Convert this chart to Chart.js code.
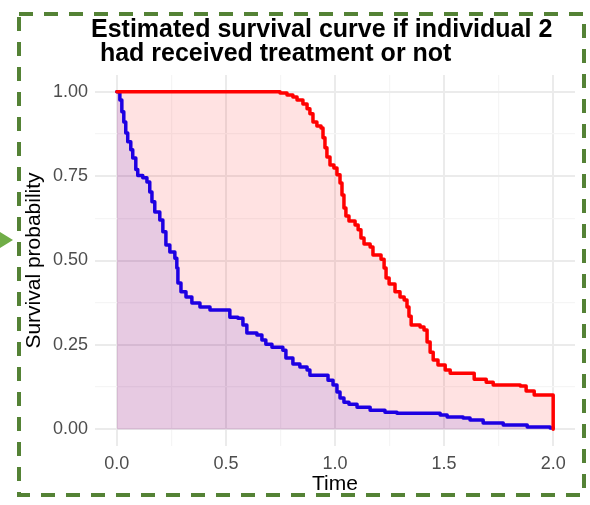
<!DOCTYPE html>
<html>
<head>
<meta charset="utf-8">
<script src="https://cdn.jsdelivr.net/npm/chart.js@4.4.1/dist/chart.umd.min.js"></script>
<style>
  html, body { margin: 0; padding: 0; background: #ffffff; }
  #wrap { position: relative; width: 590px; height: 505px; }
</style>
</head>
<body>
<div id="wrap"><canvas id="c" width="590" height="505"></canvas></div>
<script>
// ---- Data ----
const titleLines = ['Estimated survival curve if individual 2', ' had received treatment or not'];
const xAxisTitle = 'Time';
const yAxisTitle = 'Survival probability';
const xTickValues = [0.0, 0.5, 1.0, 1.5, 2.0];
const yTickValues = [0.00, 0.25, 0.50, 0.75, 1.00];

// Red curve (Kaplan–Meier step points: time, survival)
const redTime = [0, 0.688, 0.748, 0.780, 0.807, 0.826, 0.853, 0.872, 0.885, 0.899, 0.917, 0.936, 0.945, 0.954, 0.963, 0.977, 0.995, 1.009, 1.023, 1.032, 1.041, 1.050, 1.064, 1.092, 1.106, 1.119, 1.133, 1.161, 1.174, 1.211, 1.225, 1.234, 1.248, 1.275, 1.298, 1.317, 1.330, 1.339, 1.349, 1.390, 1.408, 1.422, 1.436, 1.450, 1.472, 1.505, 1.528, 1.638, 1.693, 1.725, 1.849, 1.876, 1.913, 2.000];
const redSurv = [1.000, 1.000, 0.997, 0.991, 0.985, 0.976, 0.964, 0.950, 0.935, 0.911, 0.899, 0.893, 0.864, 0.834, 0.807, 0.783, 0.774, 0.754, 0.730, 0.694, 0.656, 0.632, 0.617, 0.605, 0.591, 0.567, 0.549, 0.540, 0.516, 0.504, 0.478, 0.448, 0.430, 0.407, 0.392, 0.383, 0.362, 0.335, 0.309, 0.303, 0.294, 0.258, 0.228, 0.205, 0.190, 0.175, 0.166, 0.148, 0.139, 0.131, 0.128, 0.113, 0.101, 0.000];

// Blue curve
const blueTime = [0, 0.014, 0.023, 0.032, 0.041, 0.050, 0.064, 0.073, 0.087, 0.096, 0.119, 0.138, 0.151, 0.161, 0.174, 0.197, 0.211, 0.225, 0.243, 0.266, 0.275, 0.280, 0.294, 0.317, 0.344, 0.381, 0.427, 0.518, 0.555, 0.578, 0.596, 0.642, 0.665, 0.683, 0.711, 0.761, 0.775, 0.807, 0.839, 0.872, 0.885, 0.968, 0.991, 1.009, 1.023, 1.041, 1.064, 1.101, 1.161, 1.229, 1.284, 1.482, 1.514, 1.587, 1.619, 1.679, 1.771, 1.881, 1.986, 2.000];
const blueSurv = [1.000, 0.976, 0.941, 0.911, 0.878, 0.852, 0.828, 0.804, 0.770, 0.752, 0.745, 0.733, 0.703, 0.674, 0.644, 0.620, 0.585, 0.546, 0.525, 0.507, 0.478, 0.433, 0.407, 0.392, 0.374, 0.362, 0.353, 0.332, 0.329, 0.309, 0.285, 0.279, 0.264, 0.252, 0.243, 0.234, 0.211, 0.193, 0.184, 0.175, 0.160, 0.145, 0.131, 0.110, 0.092, 0.080, 0.074, 0.065, 0.056, 0.050, 0.047, 0.042, 0.036, 0.033, 0.027, 0.018, 0.012, 0.006, 0.003, 0.003];

const toPoints = (ts, ss) => ts.map((t, i) => ({ x: t, y: ss[i] }));

// ---- Decorations: dashed frame, arrow, title ----
const framePlugin = {
  id: 'frame',
  afterDraw(chart) {
    const ctx = chart.ctx;
    ctx.save();
    ctx.strokeStyle = '#548235';
    ctx.lineWidth = 4;
    ctx.setLineDash([14, 11]);
    ctx.strokeRect(19, 14, 565, 481);
    ctx.setLineDash([]);
    ctx.fillStyle = '#70AD47';
    ctx.beginPath();
    ctx.moveTo(0, 232);
    ctx.lineTo(13, 240);
    ctx.lineTo(0, 248);
    ctx.closePath();
    ctx.fill();
    ctx.fillStyle = '#000000';
    ctx.font = 'bold 25px "Liberation Sans", Arial, sans-serif';
    ctx.textAlign = 'left';
    ctx.textBaseline = 'alphabetic';
    ctx.fillText(titleLines[0], 91, 37);
    ctx.fillText(titleLines[1], 93, 61);
    ctx.restore();
  }
};

const majorX = v => Math.abs(v * 2 - Math.round(v * 2)) < 1e-6;
const majorY = v => Math.abs(v * 4 - Math.round(v * 4)) < 1e-6;

new Chart(document.getElementById('c'), {
  type: 'line',
  data: {
    datasets: [
      {
        label: 'Treatment',
        data: toPoints(redTime, redSurv),
        borderColor: '#FF0000',
        backgroundColor: 'rgba(255,0,0,0.115)',
        borderWidth: 3.5,
        borderJoinStyle: 'round',
        borderCapStyle: 'round',
        stepped: 'before',
        pointRadius: 0,
        fill: 'origin',
        tension: 0
      },
      {
        label: 'No treatment',
        data: toPoints(blueTime, blueSurv),
        borderColor: '#0000FF',
        backgroundColor: 'rgba(0,0,255,0.11)',
        borderWidth: 3.5,
        borderJoinStyle: 'round',
        borderCapStyle: 'round',
        stepped: 'before',
        pointRadius: 0,
        fill: 'origin',
        tension: 0
      }
    ]
  },
  options: {
    responsive: false,
    animation: false,
    devicePixelRatio: 1,
    layout: { padding: { top: 75, right: 15, left: 0, bottom: 0 } },
    plugins: {
      legend: { display: false },
      title: { display: false },
      tooltip: { enabled: false }
    },
    scales: {
      x: {
        type: 'linear',
        min: -0.1,
        max: 2.1,
        afterFit(s) { s.height = 59; },
        border: { display: false },
        grid: {
          drawTicks: false,
          color: ctx => majorX(ctx.tick.value) ? '#EBEBEB' : '#F5F5F5',
          lineWidth: ctx => majorX(ctx.tick.value) ? 2 : 1.2
        },
        ticks: {
          stepSize: 0.25,
          includeBounds: false,
          autoSkip: false,
          maxRotation: 0,
          padding: 7,
          color: '#4D4D4D',
          font: { family: '"Liberation Sans", Arial, sans-serif', size: 18 },
          callback: v => xTickValues.some(t => Math.abs(t - v) < 1e-6) ? Number(v).toFixed(1) : ''
        },
        title: {
          display: true,
          text: xAxisTitle,
          color: '#000000',
          font: { family: '"Liberation Sans", Arial, sans-serif', size: 21 },
          padding: { top: 0, bottom: 8 }
        }
      },
      y: {
        type: 'linear',
        min: -0.05,
        max: 1.05,
        afterFit(s) { s.width = 95; },
        border: { display: false },
        grid: {
          drawTicks: false,
          color: ctx => majorY(ctx.tick.value) ? '#EBEBEB' : '#F5F5F5',
          lineWidth: ctx => majorY(ctx.tick.value) ? 2 : 1.2
        },
        ticks: {
          stepSize: 0.125,
          includeBounds: false,
          autoSkip: false,
          padding: 7,
          color: '#4D4D4D',
          font: { family: '"Liberation Sans", Arial, sans-serif', size: 18 },
          callback: v => yTickValues.some(t => Math.abs(t - v) < 1e-6) ? Number(v).toFixed(2) : ''
        },
        title: {
          display: true,
          text: yAxisTitle,
          color: '#000000',
          font: { family: '"Liberation Sans", Arial, sans-serif', size: 21 },
          padding: { top: 22, bottom: 0 }
        }
      }
    }
  },
  plugins: [framePlugin]
});
</script>
</body>
</html>
